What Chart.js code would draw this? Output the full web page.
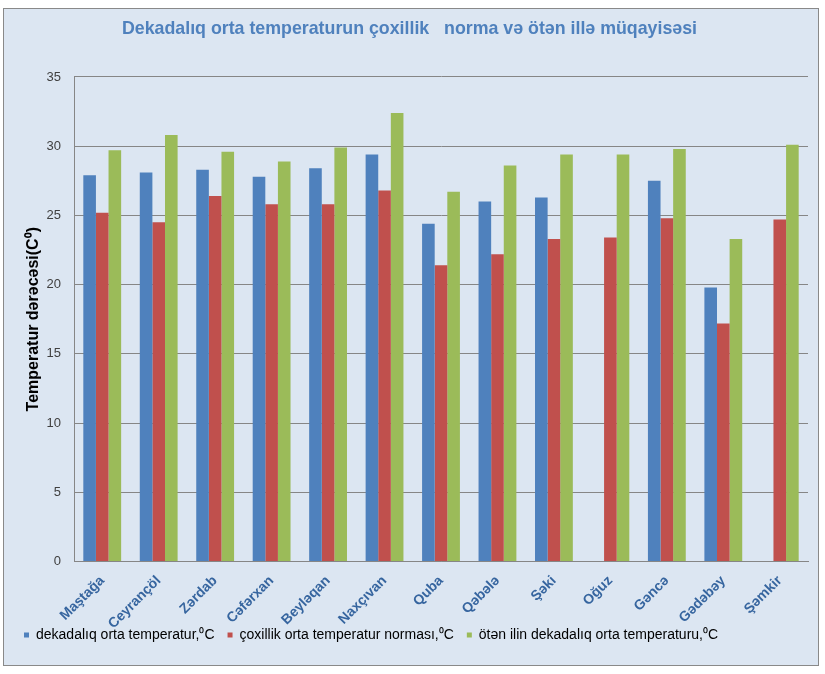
<!DOCTYPE html>
<html>
<head>
<meta charset="utf-8">
<script src="https://cdn.jsdelivr.net/npm/chart.js@4.4.0/dist/chart.umd.min.js"></script>
<style>
html,body{margin:0;padding:0;background:#fff;}
#wrap{position:absolute;left:0;top:0;width:825px;height:674px;}
</style>
</head>
<body>
<div id="wrap"><canvas id="c" width="825" height="674"></canvas></div>
<script>
const categories = ["Maştağa","Ceyrançöl","Zərdab","Cəfərxan","Beyləqan","Naxçıvan","Quba","Qəbələ","Şəki","Oğuz","Gəncə","Gədəbəy","Şəmkir"];
const seriesNames = ["dekadalıq orta temperatur,⁰C","çoxillik orta temperatur norması,⁰C","ötən ilin dekadalıq orta temperaturu,⁰C"];
const dekadaTemp = [27.9, 28.1, 28.3, 27.8, 28.4, 29.4, 24.4, 26.0, 26.3, null, 27.5, 19.8, null];
const normaTemp  = [25.2, 24.5, 26.4, 25.8, 25.8, 26.8, 21.4, 22.2, 23.3, 23.4, 24.8, 17.2, 24.7];
const otenIlTemp = [29.7, 30.8, 29.6, 28.9, 29.9, 32.4, 26.7, 28.6, 29.4, 29.4, 29.8, 23.3, 30.1];
const yTicks = [0, 5, 10, 15, 20, 25, 30, 35];
const chartTitle = "Dekadalıq orta temperaturun çoxillik   norma və ötən illə müqayisəsi";
const yTitle = "Temperatur dərəcəsi(C⁰)";

const FONT = "'Liberation Sans', Arial, sans-serif";

const bgPlugin = {
  id: 'bg',
  beforeDraw(chart) {
    const ctx = chart.ctx;
    ctx.save();
    ctx.fillStyle = '#ffffff';
    ctx.fillRect(0, 0, chart.width, chart.height);
    ctx.fillStyle = '#dce6f2';
    ctx.fillRect(3.5, 8.5, 815, 657);
    ctx.strokeStyle = '#898989';
    ctx.lineWidth = 1;
    ctx.strokeRect(3.5, 8.5, 815, 657);
    ctx.restore();
  }
};

// let the rotated category labels run down next to the legend (no clipping at the axis box)
const labelRoomPlugin = {
  id: 'labelRoom',
  afterLayout(chart) {
    const x = chart.scales.x;
    x.bottom = x.top + 80;
  }
};

new Chart(document.getElementById('c'), {
  type: 'bar',
  data: {
    labels: categories,
    datasets: [
      { label: seriesNames[0], data: dekadaTemp, backgroundColor: '#4f81bd' },
      { label: seriesNames[1], data: normaTemp, backgroundColor: '#c0504d' },
      { label: seriesNames[2], data: otenIlTemp, backgroundColor: '#9bbb59' }
    ]
  },
  options: {
    responsive: false,
    animation: false,
    devicePixelRatio: 1,
    datasets: { bar: { categoryPercentage: 0.67, barPercentage: 1.0 } },
    layout: { padding: { left: 11, right: 17, top: 12, bottom: 22 } },
    plugins: {
      title: {
        display: true,
        text: chartTitle,
        color: '#4f81bd',
        font: { family: FONT, size: 17.8, weight: 'bold' },
        padding: { top: 6, bottom: 37.6 }
      },
      legend: {
        position: 'bottom',
        align: 'start',
        labels: {
          boxWidth: 5,
          boxHeight: 5,
          padding: 13,
          color: '#000000',
          font: { family: FONT, size: 14 }
        }
      },
      tooltip: { enabled: false }
    },
    scales: {
      x: {
        grid: { display: false, drawTicks: false },
        border: { display: true, color: '#868686' },
        ticks: {
          autoSkip: false,
          maxRotation: 45,
          minRotation: 45,
          padding: 11,
          color: '#36659f',
          font: { family: FONT, size: 14, weight: 'bold' }
        },
        afterFit(scale) { scale.height = 53.5; }
      },
      y: {
        min: 0,
        max: 35,
        afterBuildTicks(scale) { scale.ticks = yTicks.map(v => ({ value: v })); },
        grid: { color: '#868686', lineWidth: 1, drawTicks: false },
        border: { display: true, color: '#868686' },
        ticks: {
          padding: 13,
          color: '#404040',
          font: { family: FONT, size: 13 }
        },
        title: {
          display: true,
          text: yTitle,
          color: '#000000',
          font: { family: FONT, size: 16, weight: 'bold' },
          padding: { top: 13, bottom: 0 }
        },
        afterFit(scale) { scale.width = 63; }
      }
    }
  },
  plugins: [bgPlugin, labelRoomPlugin]
});
</script>
</body>
</html>
